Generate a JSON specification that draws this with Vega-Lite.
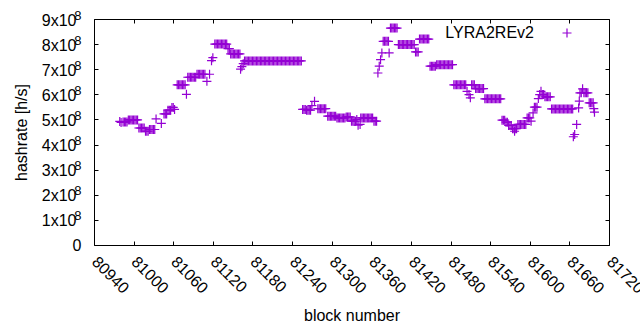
{
  "$schema": "https://vega.github.io/schema/vega-lite/v6.json",
  "width": 515,
  "height": 226,
  "autosize": "none",
  "padding": {"left": 94, "top": 19, "right": 31, "bottom": 85},
  "background": "white",
  "config": {
    "view": {"stroke": "black", "strokeWidth": 1},
    "font": "Liberation Sans",
    "axis": {"labelFont": "Liberation Sans", "titleFont": "Liberation Sans", "labelColor": "black", "titleColor": "black", "tickColor": "black", "domain": false, "grid": false, "titleFontWeight": "normal", "labelFontSize": 16, "titleFontSize": 16}
  },
  "data": {"values": [
    {"block":80979,"rate":4.92e8},{"block":80981,"rate":4.88e8},
    {"block":80984,"rate":4.90e8},{"block":80986,"rate":4.90e8},{"block":80988,"rate":4.90e8},{"block":80990,"rate":4.90e8},
    {"block":80992,"rate":4.98e8},{"block":80994,"rate":4.98e8},{"block":80996,"rate":4.98e8},{"block":80998,"rate":4.98e8},{"block":81000,"rate":4.98e8},{"block":81002,"rate":4.98e8},{"block":81004,"rate":4.98e8},{"block":81006,"rate":4.98e8},
    {"block":81008,"rate":4.66e8},{"block":81010,"rate":4.66e8},{"block":81012,"rate":4.66e8},{"block":81014,"rate":4.66e8},{"block":81016,"rate":4.66e8},
    {"block":81018,"rate":4.53e8},{"block":81020,"rate":4.53e8},{"block":81022,"rate":4.53e8},
    {"block":81024,"rate":4.60e8},{"block":81026,"rate":4.60e8},{"block":81028,"rate":4.60e8},{"block":81030,"rate":4.60e8},{"block":81032,"rate":4.60e8},
    {"block":81034,"rate":5.02e8},{"block":81042,"rate":4.84e8},
    {"block":81046,"rate":5.22e8},{"block":81048,"rate":5.22e8},{"block":81050,"rate":5.22e8},
    {"block":81052,"rate":5.37e8},{"block":81054,"rate":5.37e8},{"block":81056,"rate":5.37e8},
    {"block":81058,"rate":5.48e8},{"block":81060,"rate":5.48e8},{"block":81062,"rate":5.40e8},
    {"block":81066,"rate":6.38e8},{"block":81068,"rate":6.38e8},{"block":81070,"rate":6.38e8},{"block":81072,"rate":6.38e8},{"block":81074,"rate":6.38e8},{"block":81076,"rate":6.38e8},{"block":81078,"rate":6.38e8},
    {"block":81080,"rate":6.00e8},
    {"block":81082,"rate":6.68e8},{"block":81084,"rate":6.68e8},{"block":81086,"rate":6.68e8},{"block":81088,"rate":6.68e8},{"block":81090,"rate":6.68e8},{"block":81092,"rate":6.68e8},{"block":81094,"rate":6.68e8},
    {"block":81096,"rate":6.80e8},{"block":81098,"rate":6.80e8},{"block":81100,"rate":6.80e8},{"block":81102,"rate":6.80e8},{"block":81104,"rate":6.80e8},{"block":81106,"rate":6.80e8},{"block":81108,"rate":6.80e8},
    {"block":81111,"rate":6.52e8},{"block":81115,"rate":6.80e8},{"block":81118,"rate":7.34e8},{"block":81120,"rate":7.46e8},
    {"block":81123,"rate":8.00e8},{"block":81125,"rate":8.00e8},{"block":81127,"rate":8.00e8},{"block":81129,"rate":8.00e8},{"block":81131,"rate":8.00e8},{"block":81133,"rate":8.00e8},{"block":81135,"rate":8.00e8},{"block":81137,"rate":8.00e8},{"block":81139,"rate":8.00e8},{"block":81141,"rate":8.00e8},
    {"block":81143,"rate":7.82e8},{"block":81145,"rate":7.82e8},
    {"block":81147,"rate":7.61e8},{"block":81149,"rate":7.61e8},{"block":81151,"rate":7.61e8},{"block":81153,"rate":7.61e8},{"block":81155,"rate":7.61e8},{"block":81157,"rate":7.61e8},{"block":81159,"rate":7.61e8},{"block":81161,"rate":7.61e8},
    {"block":81162,"rate":7.00e8},{"block":81164,"rate":7.10e8},{"block":81166,"rate":7.22e8},
    {"block":81168,"rate":7.33e8},{"block":81170,"rate":7.33e8},{"block":81172,"rate":7.33e8},{"block":81174,"rate":7.33e8},{"block":81176,"rate":7.33e8},{"block":81178,"rate":7.33e8},{"block":81180,"rate":7.33e8},{"block":81182,"rate":7.33e8},{"block":81184,"rate":7.33e8},{"block":81186,"rate":7.33e8},
    {"block":81188,"rate":7.33e8},{"block":81190,"rate":7.33e8},{"block":81192,"rate":7.33e8},{"block":81194,"rate":7.33e8},{"block":81196,"rate":7.33e8},{"block":81198,"rate":7.33e8},{"block":81200,"rate":7.33e8},{"block":81202,"rate":7.33e8},{"block":81204,"rate":7.33e8},{"block":81206,"rate":7.33e8},
    {"block":81208,"rate":7.33e8},{"block":81210,"rate":7.33e8},{"block":81212,"rate":7.33e8},{"block":81214,"rate":7.33e8},{"block":81216,"rate":7.33e8},{"block":81218,"rate":7.33e8},{"block":81220,"rate":7.33e8},{"block":81222,"rate":7.33e8},{"block":81224,"rate":7.33e8},{"block":81226,"rate":7.33e8},
    {"block":81228,"rate":7.33e8},{"block":81230,"rate":7.33e8},{"block":81232,"rate":7.33e8},{"block":81234,"rate":7.33e8},{"block":81236,"rate":7.33e8},{"block":81238,"rate":7.33e8},{"block":81240,"rate":7.33e8},{"block":81242,"rate":7.33e8},{"block":81244,"rate":7.33e8},{"block":81246,"rate":7.33e8},
    {"block":81248,"rate":7.33e8},{"block":81250,"rate":7.33e8},{"block":81252,"rate":7.33e8},{"block":81254,"rate":7.33e8},
    {"block":81256,"rate":5.40e8},{"block":81258,"rate":5.40e8},{"block":81260,"rate":5.40e8},
    {"block":81262,"rate":5.37e8},{"block":81264,"rate":5.37e8},{"block":81266,"rate":5.37e8},{"block":81268,"rate":5.37e8},
    {"block":81270,"rate":5.55e8},{"block":81274,"rate":5.72e8},
    {"block":81279,"rate":5.43e8},{"block":81281,"rate":5.43e8},{"block":81283,"rate":5.43e8},{"block":81285,"rate":5.43e8},{"block":81287,"rate":5.43e8},{"block":81289,"rate":5.43e8},{"block":81291,"rate":5.43e8},
    {"block":81294,"rate":5.13e8},{"block":81296,"rate":5.13e8},{"block":81298,"rate":5.13e8},{"block":81300,"rate":5.13e8},{"block":81302,"rate":5.13e8},{"block":81304,"rate":5.13e8},{"block":81306,"rate":5.13e8},
    {"block":81308,"rate":5.06e8},{"block":81310,"rate":5.06e8},{"block":81312,"rate":5.06e8},{"block":81314,"rate":5.06e8},{"block":81316,"rate":5.06e8},{"block":81318,"rate":5.06e8},{"block":81320,"rate":5.06e8},
    {"block":81322,"rate":5.10e8},{"block":81324,"rate":5.10e8},{"block":81326,"rate":5.10e8},{"block":81328,"rate":5.10e8},
    {"block":81330,"rate":4.93e8},{"block":81332,"rate":4.93e8},{"block":81334,"rate":4.93e8},{"block":81336,"rate":4.93e8},
    {"block":81338,"rate":5.00e8},{"block":81340,"rate":4.77e8},{"block":81343,"rate":4.80e8},
    {"block":81344,"rate":5.06e8},{"block":81346,"rate":5.06e8},{"block":81348,"rate":5.06e8},{"block":81350,"rate":5.06e8},{"block":81352,"rate":5.06e8},{"block":81354,"rate":5.06e8},{"block":81356,"rate":5.06e8},{"block":81358,"rate":5.06e8},{"block":81360,"rate":5.06e8},{"block":81362,"rate":5.06e8},
    {"block":81364,"rate":4.93e8},{"block":81366,"rate":4.93e8},{"block":81368,"rate":4.93e8},
    {"block":81370,"rate":6.85e8},{"block":81372,"rate":7.12e8},{"block":81374,"rate":7.38e8},{"block":81376,"rate":7.65e8},
    {"block":81378,"rate":8.11e8},{"block":81380,"rate":8.11e8},{"block":81382,"rate":8.11e8},{"block":81384,"rate":8.11e8},{"block":81386,"rate":8.11e8},
    {"block":81387,"rate":7.65e8},
    {"block":81389,"rate":8.64e8},{"block":81391,"rate":8.64e8},{"block":81393,"rate":8.64e8},{"block":81395,"rate":8.64e8},{"block":81397,"rate":8.64e8},{"block":81399,"rate":8.64e8},
    {"block":81401,"rate":7.98e8},{"block":81403,"rate":7.98e8},{"block":81405,"rate":7.98e8},{"block":81407,"rate":7.98e8},{"block":81409,"rate":7.98e8},{"block":81411,"rate":7.98e8},{"block":81413,"rate":7.98e8},{"block":81415,"rate":7.98e8},{"block":81417,"rate":7.98e8},{"block":81419,"rate":7.98e8},{"block":81421,"rate":7.98e8},{"block":81423,"rate":7.98e8},{"block":81425,"rate":7.98e8},
    {"block":81427,"rate":7.69e8},{"block":81429,"rate":7.69e8},{"block":81431,"rate":7.69e8},
    {"block":81433,"rate":8.20e8},{"block":81435,"rate":8.20e8},{"block":81437,"rate":8.20e8},{"block":81439,"rate":8.20e8},{"block":81441,"rate":8.20e8},{"block":81443,"rate":8.20e8},{"block":81445,"rate":8.20e8},{"block":81447,"rate":8.20e8},
    {"block":81449,"rate":7.12e8},{"block":81451,"rate":7.12e8},{"block":81453,"rate":7.12e8},{"block":81455,"rate":7.12e8},{"block":81457,"rate":7.12e8},
    {"block":81459,"rate":7.18e8},{"block":81461,"rate":7.18e8},{"block":81463,"rate":7.18e8},{"block":81465,"rate":7.18e8},{"block":81467,"rate":7.18e8},{"block":81469,"rate":7.18e8},{"block":81471,"rate":7.18e8},{"block":81473,"rate":7.18e8},{"block":81475,"rate":7.18e8},{"block":81477,"rate":7.18e8},{"block":81479,"rate":7.18e8},{"block":81481,"rate":7.18e8},{"block":81483,"rate":7.18e8},
    {"block":81485,"rate":6.38e8},{"block":81487,"rate":6.38e8},{"block":81489,"rate":6.38e8},{"block":81491,"rate":6.38e8},{"block":81493,"rate":6.38e8},{"block":81495,"rate":6.38e8},{"block":81497,"rate":6.38e8},{"block":81499,"rate":6.38e8},{"block":81501,"rate":6.38e8},{"block":81503,"rate":6.38e8},
    {"block":81505,"rate":6.12e8},{"block":81508,"rate":5.99e8},{"block":81510,"rate":5.86e8},
    {"block":81512,"rate":6.38e8},{"block":81514,"rate":6.38e8},{"block":81516,"rate":6.38e8},
    {"block":81518,"rate":6.23e8},{"block":81520,"rate":6.23e8},{"block":81522,"rate":6.23e8},{"block":81524,"rate":6.23e8},{"block":81526,"rate":6.23e8},{"block":81528,"rate":6.23e8},{"block":81530,"rate":6.23e8},
    {"block":81532,"rate":5.82e8},{"block":81534,"rate":5.82e8},{"block":81536,"rate":5.82e8},{"block":81538,"rate":5.82e8},{"block":81540,"rate":5.82e8},{"block":81542,"rate":5.82e8},{"block":81544,"rate":5.82e8},{"block":81546,"rate":5.82e8},{"block":81548,"rate":5.82e8},{"block":81550,"rate":5.82e8},{"block":81552,"rate":5.82e8},{"block":81554,"rate":5.82e8},{"block":81556,"rate":5.82e8},
    {"block":81558,"rate":4.97e8},{"block":81560,"rate":4.97e8},{"block":81562,"rate":4.97e8},
    {"block":81564,"rate":4.89e8},{"block":81566,"rate":4.89e8},
    {"block":81568,"rate":4.76e8},{"block":81570,"rate":4.76e8},{"block":81572,"rate":4.76e8},
    {"block":81574,"rate":4.63e8},{"block":81576,"rate":4.63e8},{"block":81577,"rate":4.53e8},{"block":81578,"rate":4.63e8},{"block":81580,"rate":4.63e8},
    {"block":81582,"rate":4.80e8},{"block":81584,"rate":4.80e8},{"block":81586,"rate":4.80e8},{"block":81588,"rate":4.80e8},{"block":81590,"rate":4.80e8},{"block":81592,"rate":4.80e8},{"block":81594,"rate":4.80e8},
    {"block":81596,"rate":5.06e8},{"block":81598,"rate":5.06e8},{"block":81600,"rate":5.06e8},
    {"block":81602,"rate":4.93e8},{"block":81605,"rate":5.26e8},
    {"block":81607,"rate":5.49e8},{"block":81609,"rate":5.49e8},{"block":81611,"rate":5.49e8},
    {"block":81613,"rate":5.83e8},{"block":81615,"rate":5.99e8},{"block":81617,"rate":6.12e8},{"block":81619,"rate":5.99e8},{"block":81621,"rate":5.99e8},
    {"block":81623,"rate":5.90e8},{"block":81625,"rate":5.90e8},{"block":81627,"rate":5.90e8},{"block":81629,"rate":5.90e8},{"block":81631,"rate":5.90e8},
    {"block":81633,"rate":5.42e8},{"block":81635,"rate":5.42e8},{"block":81637,"rate":5.42e8},{"block":81639,"rate":5.42e8},{"block":81641,"rate":5.42e8},{"block":81643,"rate":5.42e8},{"block":81645,"rate":5.42e8},{"block":81647,"rate":5.42e8},{"block":81649,"rate":5.42e8},{"block":81651,"rate":5.42e8},{"block":81653,"rate":5.42e8},{"block":81655,"rate":5.42e8},{"block":81657,"rate":5.42e8},{"block":81659,"rate":5.42e8},{"block":81661,"rate":5.42e8},{"block":81663,"rate":5.42e8},{"block":81665,"rate":5.42e8},
    {"block":81666,"rate":4.31e8},{"block":81668,"rate":4.40e8},{"block":81671,"rate":4.80e8},{"block":81674,"rate":5.46e8},{"block":81675,"rate":5.73e8},
    {"block":81676,"rate":6.06e8},{"block":81678,"rate":6.06e8},{"block":81680,"rate":6.22e8},{"block":81682,"rate":6.06e8},{"block":81684,"rate":6.06e8},{"block":81686,"rate":6.06e8},{"block":81688,"rate":6.06e8},
    {"block":81690,"rate":5.66e8},{"block":81692,"rate":5.66e8},{"block":81694,"rate":5.66e8},{"block":81696,"rate":5.66e8},
    {"block":81697,"rate":5.43e8},{"block":81698,"rate":5.29e8}
  ]},
  "layer": [
    {
      "mark": {"type": "point", "shape": "M-1,0H1M0,-1V1", "size": 81, "strokeWidth": 1.2, "filled": false, "opacity": 1},
      "encoding": {
        "x": {"field": "block", "type": "quantitative", "scale": {"domain": [80940, 81720], "nice": false, "zero": false},
          "axis": {"orient": "bottom", "title": "block number", "format": "d", "values": [80940,81000,81060,81120,81180,81240,81300,81360,81420,81480,81540,81600,81660,81720],
            "tickSize": -4, "labelAngle": 45, "labelAlign": "left", "labelBaseline": "middle", "labelPadding": 18, "labelFlush": false, "labelOverlap": false, "labelBound": false, "titlePadding": 11}},
        "y": {"field": "rate", "type": "quantitative", "scale": {"domain": [0, 900000000], "nice": false, "zero": true},
          "axis": {"orient": "left", "title": "hashrate [h/s]", "values": [0,100000000,200000000,300000000,400000000,500000000,600000000,700000000,800000000,900000000],
            "tickSize": -4, "labelExpr": "datum.value == 0 ? '' : format(datum.value/100000000, 'd') + 'x10'", "labelPadding": 22, "labelOffset": 1, "titlePadding": 12}},
        "color": {"datum": "LYRA2REv2", "scale": {"range": ["#9400d3"]},
          "legend": {"title": null, "orient": "none", "legendX": 465, "legendY": 6, "padding": 0, "symbolType": "M-1,0H1M0,-1V1", "symbolSize": 81, "symbolStrokeWidth": 1.2, "labelFontSize": 16, "labelFont": "Liberation Sans", "labelColor": "black", "labelAlign": "right", "labelBaseline": "middle", "labelOffset": -41}}
      }
    },
    {
      "mark": {"type": "point", "opacity": 0},
      "encoding": {
        "x": {"field": "block", "type": "quantitative", "scale": {"domain": [80940, 81720], "nice": false, "zero": false},
          "axis": {"orient": "top", "title": null, "labels": false, "tickSize": -4, "values": [80940,81000,81060,81120,81180,81240,81300,81360,81420,81480,81540,81600,81660,81720]}},
        "y": {"field": "rate", "type": "quantitative",
          "axis": {"orient": "left", "title": null, "ticks": false, "values": [0,100000000,200000000,300000000,400000000,500000000,600000000,700000000,800000000,900000000],
            "labelExpr": "datum.value == 0 ? '0' : '8'",
            "labelFontSize": {"condition": {"test": "datum.value == 0", "value": 16}, "value": 13},
            "labelOffset": {"condition": {"test": "datum.value == 0", "value": 0}, "value": -4},
            "labelPadding": 13}}
      }
    },
    {
      "mark": {"type": "point", "opacity": 0},
      "encoding": {
        "x": {"field": "block", "type": "quantitative", "axis": null},
        "y": {"field": "rate", "type": "quantitative",
          "axis": {"orient": "right", "title": null, "labels": false, "tickSize": -4, "values": [0,100000000,200000000,300000000,400000000,500000000,600000000,700000000,800000000,900000000]}}
      }
    }
  ],
  "resolve": {"axis": {"x": "independent", "y": "independent"}}
}
